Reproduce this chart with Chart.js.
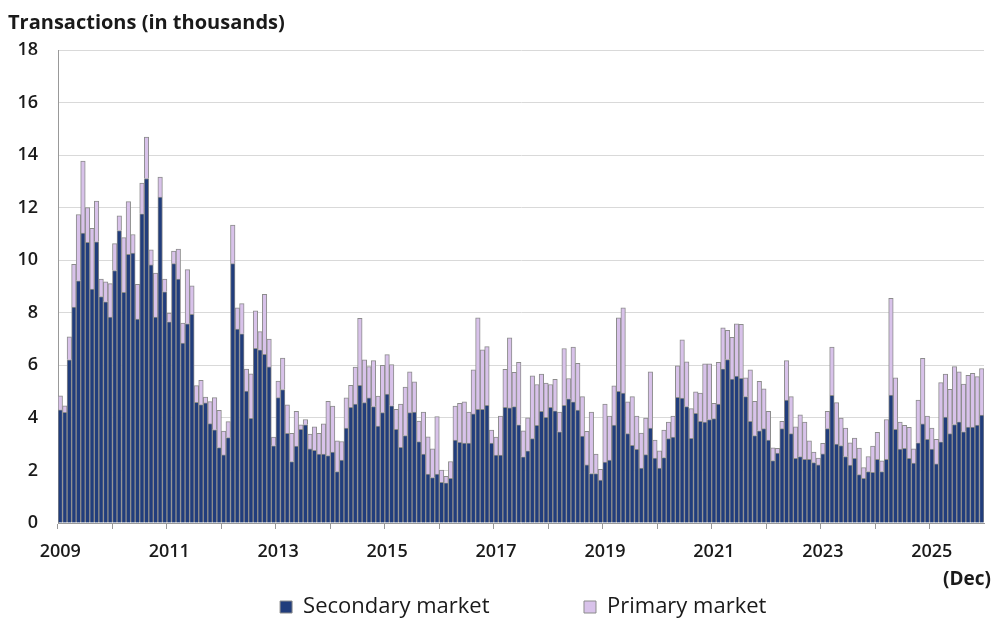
<!DOCTYPE html>
<html>
<head>
<meta charset="utf-8">
<script src="https://cdn.jsdelivr.net/npm/chart.js@4.4.1/dist/chart.umd.min.js"></script>
<style>
  html, body { margin: 0; padding: 0; background: #fff; }
  #wrap { width: 995px; height: 619px; }
</style>
</head>
<body>
<div id="wrap"><canvas id="chart" width="995" height="619"></canvas></div>
<script>
// monthly transactions, Jan 2009 - Dec 2025 (thousands)
const firstYear = 2009;
const lastYear = 2025;
const labelYears = [2009, 2011, 2013, 2015, 2017, 2019, 2021, 2023, 2025];
const seriesNames = ['Secondary market', 'Primary market'];

const secondary = [
  4.31, 4.21, 6.21, 8.22, 9.22, 11.03, 10.68, 8.90, 10.70, 8.62, 8.42, 7.84,   // 2009
  9.61, 11.13, 8.78, 10.22, 10.27, 7.76, 11.77, 13.11, 9.82, 7.84, 12.40, 8.80, // 2010
  7.66, 9.87, 9.28, 6.85, 7.58, 7.94, 4.59, 4.51, 4.57, 3.78, 3.55, 2.87,       // 2011
  2.59, 3.25, 9.87, 7.38, 7.20, 5.02, 3.98, 6.65, 6.59, 6.42, 5.94, 2.94,       // 2012
  4.77, 5.08, 3.41, 2.34, 2.93, 3.56, 3.74, 2.82, 2.77, 2.62, 2.62, 2.57,       // 2013
  2.70, 1.96, 2.39, 3.61, 4.40, 4.53, 5.24, 4.58, 4.76, 4.43, 3.69, 4.20,       // 2014
  4.91, 4.46, 3.56, 2.88, 3.33, 4.20, 4.22, 3.10, 2.62, 1.86, 1.73, 1.86,       // 2015
  1.55, 1.53, 1.70, 3.16, 3.07, 3.04, 3.04, 4.15, 4.33, 4.33, 4.48, 3.04,       // 2016
  2.58, 2.58, 4.40, 4.38, 4.43, 3.74, 2.52, 2.75, 3.21, 3.72, 4.25, 4.02,       // 2017
  4.40, 4.27, 3.47, 4.48, 4.73, 4.61, 4.30, 3.31, 2.21, 1.88, 1.88, 1.63,       // 2018
  2.32, 2.39, 3.73, 5.01, 4.94, 3.40, 2.96, 2.80, 2.09, 2.60, 3.61, 2.47,       // 2019
  2.09, 2.49, 3.21, 3.27, 4.78, 4.75, 4.43, 3.22, 4.17, 3.87, 3.84, 3.94,       // 2020
  3.97, 4.53, 5.87, 6.22, 5.48, 5.59, 5.51, 4.81, 3.87, 3.33, 3.51, 3.59,       // 2021
  3.16, 2.38, 2.66, 3.59, 4.68, 3.40, 2.46, 2.53, 2.42, 2.42, 2.30, 2.21,       // 2022
  2.63, 3.59, 4.86, 3.00, 2.95, 2.53, 2.20, 2.46, 1.84, 1.70, 1.96, 1.93,       // 2023
  2.42, 1.96, 2.42, 4.87, 3.56, 2.81, 2.84, 2.46, 2.28, 3.05, 3.77, 3.18,       // 2024
  2.81, 2.25, 3.09, 4.03, 3.40, 3.75, 3.85, 3.47, 3.65, 3.65, 3.73, 4.11        // 2025
];

const primary = [
  0.53, 0.25, 0.87, 1.62, 2.52, 2.74, 1.32, 2.31, 1.55, 0.66, 0.76, 1.27,       // 2009
  1.02, 0.56, 2.08, 2.01, 0.71, 1.32, 1.17, 1.58, 0.58, 1.67, 0.76, 0.48,       // 2010
  0.33, 0.48, 1.14, 0.76, 2.06, 1.09, 0.64, 0.92, 0.22, 0.84, 1.22, 1.42,       // 2011
  0.91, 0.61, 1.47, 0.81, 1.15, 0.84, 1.70, 1.42, 0.69, 2.28, 1.06, 0.33,       // 2012
  0.63, 1.20, 1.09, 1.07, 1.32, 0.18, 0.20, 0.56, 0.89, 0.79, 1.15, 2.06,       // 2013
  1.75, 1.17, 0.71, 1.15, 0.84, 1.40, 2.55, 1.63, 1.19, 1.75, 1.14, 1.80,       // 2014
  1.50, 1.57, 0.77, 1.65, 1.84, 1.55, 1.15, 0.78, 1.60, 1.42, 1.09, 2.19,       // 2015
  0.46, 0.25, 0.64, 1.29, 1.48, 1.57, 1.18, 1.68, 3.48, 2.26, 2.23, 0.50,       // 2016
  0.69, 1.49, 1.45, 2.67, 1.30, 2.37, 0.99, 1.25, 2.39, 1.55, 1.42, 1.30,       // 2017
  0.87, 1.20, 0.75, 2.16, 0.77, 2.08, 1.78, 1.50, 1.28, 2.34, 0.74, 0.41,       // 2018
  2.21, 1.68, 1.49, 2.80, 3.25, 1.21, 1.85, 1.27, 1.33, 1.39, 2.14, 0.69,       // 2019
  0.66, 1.05, 0.63, 0.80, 1.20, 2.22, 1.70, 1.13, 0.82, 1.07, 2.22, 2.12,       // 2020
  0.58, 1.58, 1.56, 1.11, 1.59, 1.99, 2.05, 0.71, 1.96, 1.30, 1.88, 1.52,       // 2021
  1.09, 0.48, 0.18, 0.28, 1.50, 1.41, 1.20, 1.59, 1.42, 0.71, 0.40, 0.26,       // 2022
  0.40, 0.66, 1.83, 1.58, 1.04, 1.08, 0.85, 0.77, 1.01, 0.41, 0.57, 1.00,       // 2023
  1.03, 0.41, 1.52, 3.68, 1.96, 1.03, 0.88, 1.18, 0.54, 1.63, 2.50, 0.89,       // 2024
  0.80, 0.93, 2.25, 1.64, 1.69, 2.20, 1.90, 1.82, 1.97, 2.05, 1.84, 1.77        // 2025
];

const months = [];
for (let y = firstYear; y <= lastYear; y++) {
  for (let m = 1; m <= 12; m++) months.push(y + '-' + String(m).padStart(2, '0'));
}

const FONT = '"Open Sans", "Noto Sans", sans-serif';
const TEXT = '#1a1a1a';
const EDGE = '#8c8c8c';
const NONE = 'rgba(0,0,0,0)';

// title top left and the "(Dec)" note under the last year label
const notes = {
  id: 'notes',
  afterDraw(chart) {
    const c = chart.ctx;
    c.save();
    c.fillStyle = TEXT;
    c.textBaseline = 'alphabetic';
    c.textAlign = 'left';
    c.font = '700 20px ' + FONT;
    c.fillText('Transactions (in thousands)', 8, 29);
    c.textAlign = 'right';
    c.font = '700 19px ' + FONT;
    c.fillText('(Dec)', 991, 585);
    c.restore();
  }
};

new Chart(document.getElementById('chart'), {
  type: 'bar',
  data: {
    labels: months,
    datasets: [
      { label: seriesNames[0], data: secondary, backgroundColor: '#213d7c', borderColor: EDGE, borderWidth: 1, stack: 's' },
      { label: seriesNames[1], data: primary, backgroundColor: '#d8c2ea', borderColor: EDGE, borderWidth: 1, stack: 's' }
    ]
  },
  options: {
    responsive: false,
    animation: false,
    devicePixelRatio: 1,
    barPercentage: 1,
    categoryPercentage: 1,
    layout: { padding: { top: 50, right: 11, left: 0, bottom: -9 } },
    plugins: {
      tooltip: { enabled: false },
      legend: {
        position: 'bottom',
        labels: {
          boxWidth: 12, boxHeight: 12, padding: 1,
          color: TEXT, font: { family: FONT, size: 22 },
          generateLabels(chart) {
            const items = Chart.defaults.plugins.legend.labels.generateLabels(chart);
            items[0].text += '\u2003\u2003\u2003\u2003\u2005';
            // blank lead item so the row sits centred under the plot area
            const lead = { text: '\u2003\u2002\u2005', fillStyle: NONE, strokeStyle: NONE, lineWidth: 0, hidden: false, datasetIndex: -1 };
            return [lead].concat(items);
          }
        }
      }
    },
    scales: {
      x: {
        stacked: true,
        grid: {
          offset: true, drawOnChartArea: false, tickLength: 6,
          color: ctx => (ctx.index % 12 === 0 ? '#999' : NONE)
        },
        border: { color: '#999' },
        ticks: {
          autoSkip: false, maxRotation: 0, padding: 12,
          color: TEXT, font: { family: FONT, size: 18, weight: '600' },
          callback(v, i) {
            const l = months[i];
            const yr = +l.slice(0, 4);
            return (l.endsWith('-01') && labelYears.includes(yr)) ? String(yr) : '';
          }
        },
        afterFit(s) { s.height = 72; }
      },
      y: {
        stacked: true, min: 0, max: 18,
        grid: { color: '#d9d9d9', tickLength: 0 },
        border: { color: '#999' },
        ticks: { stepSize: 2, padding: 20, color: TEXT, font: { family: FONT, size: 18, weight: '600' } },
        afterFit(s) { s.width = 58; }
      }
    }
  },
  plugins: [notes]
});
</script>
</body>
</html>
